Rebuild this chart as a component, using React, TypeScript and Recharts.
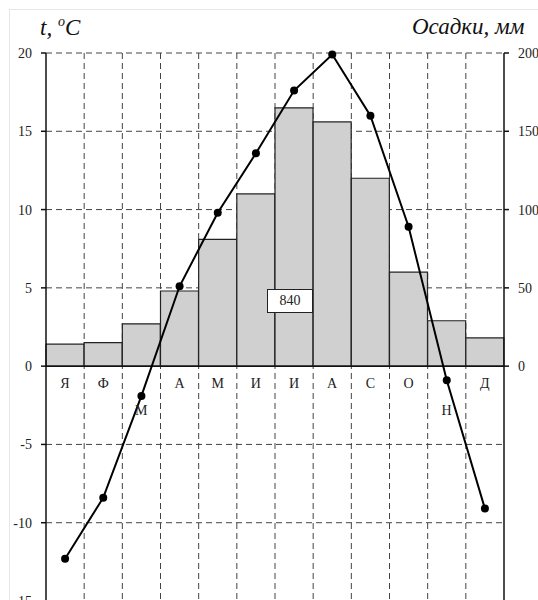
import React from "react";
import {
  Bar,
  CartesianGrid,
  ComposedChart,
  LabelList,
  Line,
  ReferenceLine,
  XAxis,
  YAxis,
} from "recharts";

// months (Russian initials), precipitation in mm, temperature in °C
const months = ["Я", "Ф", "М", "А", "М", "И", "И", "А", "С", "О", "Н", "Д"];
const precipitation = [14, 15, 27, 48, 81, 110, 165, 156, 120, 60, 29, 18];
const temperature = [-12.3, -8.4, -1.9, 5.1, 9.8, 13.6, 17.6, 19.9, 16.0, 8.9, -0.9, -9.1];
const tempTicks = [-15, -10, -5, 0, 5, 10, 15, 20];
const precipTicks = [0, 50, 100, 150, 200];
const annualTotal = 840;

// month labels pushed below the line where it crosses them
const loweredLabels = [2, 10];

const data = months.map((m, i) => ({
  m,
  p: precipitation[i],
  t: temperature[i],
}));

const serif = "'Liberation Serif', 'Times New Roman', 'DejaVu Serif', serif";

const MonthLabel = (props: any) => {
  const { x, y, width, height, index } = props;
  const low = loweredLabels.includes(index);
  return (
    <text
      x={x + width / 2}
      y={y + height + (low ? 49 : 22)}
      textAnchor="middle"
      style={{ fontFamily: serif }}
      fontSize={14}
      fill="#222"
    >
      {months[index]}
    </text>
  );
};

export default function App() {
  return (
    <div
      style={{
        position: "absolute",
        left: 0,
        top: 0,
        width: 538,
        height: 600,
        overflow: "hidden",
        background: "#fff",
        fontFamily: serif,
      }}
    >
      <div
        style={{
          position: "absolute",
          left: 9,
          top: 9,
          width: 560,
          height: 620,
          border: "1px solid #e6e6e6",
        }}
      />
      <div
        style={{
          position: "absolute",
          left: 40,
          top: 14,
          fontSize: 23,
          fontStyle: "italic",
          color: "#111",
        }}
      >
        t, <sup style={{ fontSize: 14 }}>o</sup>C
      </div>
      <div
        style={{
          position: "absolute",
          left: 412,
          top: 14,
          fontSize: 23,
          fontStyle: "italic",
          color: "#111",
          whiteSpace: "nowrap",
        }}
      >
        Осадки, мм
      </div>
      <div style={{ position: "absolute", left: 0, top: 0 }}>
        <ComposedChart
          width={538}
          height={610}
          data={data}
          margin={{ top: 53, right: 0, bottom: 9, left: 0 }}
          barCategoryGap={0}
          barGap={0}
        >
          <CartesianGrid
            yAxisId="t"
            stroke="#444"
            strokeDasharray="6 4"
            verticalCoordinatesGenerator={({ offset }: any) =>
              months.slice(1).map((_, k) => offset.left + ((k + 1) * offset.width) / months.length)
            }
          />
          <XAxis dataKey="m" hide allowDuplicatedCategory />
          <YAxis
            yAxisId="t"
            orientation="left"
            width={46}
            domain={[-15, 20]}
            ticks={tempTicks}
            interval={0}
            tickSize={5}
            tickMargin={9}
            stroke="#111"
            strokeWidth={1.5}
            tick={{ fontSize: 14, fill: "#222", style: { fontFamily: serif } }}
          />
          <YAxis
            yAxisId="p"
            orientation="right"
            width={34}
            domain={[-150, 200]}
            ticks={precipTicks}
            interval={0}
            tickSize={5}
            tickMargin={9}
            stroke="#111"
            strokeWidth={1.5}
            tick={{ fontSize: 14, fill: "#222", textAnchor: "start", style: { fontFamily: serif } }}
          />
          <Bar
            yAxisId="p"
            dataKey="p"
            fill="#d0d0d0"
            stroke="#222"
            strokeWidth={1.2}
            isAnimationActive={false}
          >
            <LabelList dataKey="p" content={MonthLabel} />
          </Bar>
          <ReferenceLine yAxisId="t" y={0} stroke="#111" strokeWidth={1.5} />
          <Line
            yAxisId="t"
            dataKey="t"
            type="linear"
            stroke="#000"
            strokeWidth={2}
            dot={{ r: 4, fill: "#000", stroke: "#000", strokeWidth: 0 }}
            isAnimationActive={false}
          />
        </ComposedChart>
      </div>
      <div
        style={{
          position: "absolute",
          left: 267,
          top: 289,
          width: 44,
          height: 22,
          background: "#fff",
          border: "1px solid #222",
          textAlign: "center",
          lineHeight: "22px",
          fontSize: 14,
          color: "#222",
        }}
      >
        {annualTotal}
      </div>
    </div>
  );
}
